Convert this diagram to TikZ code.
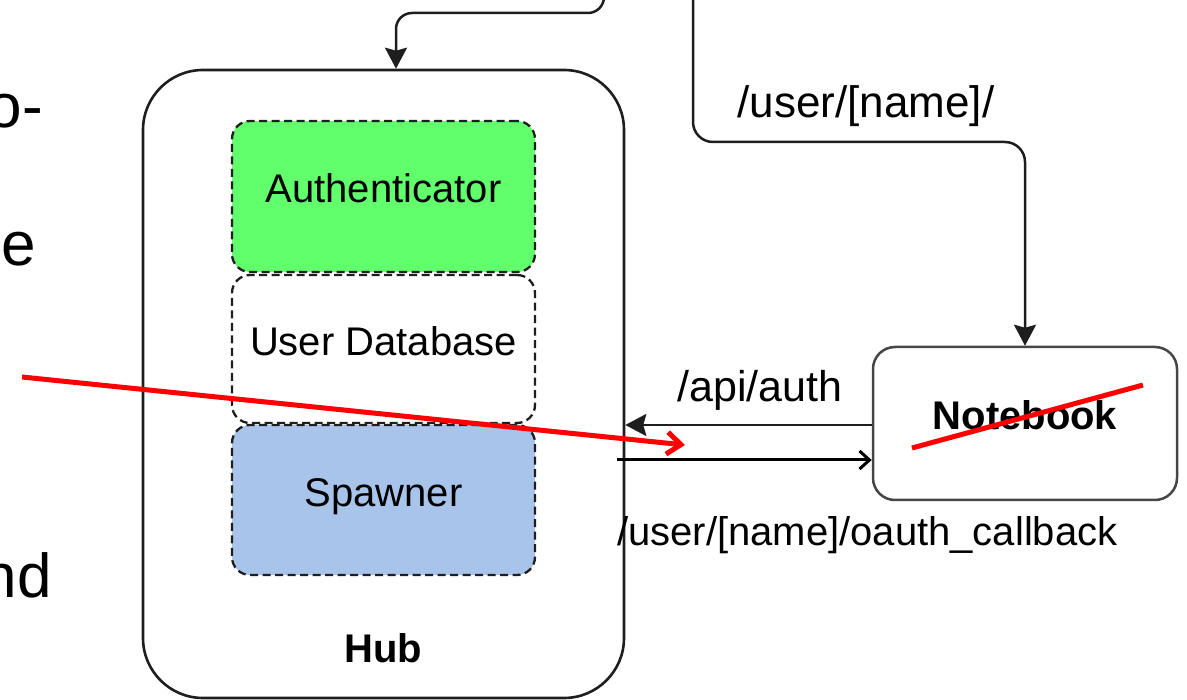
\documentclass[tikz,border=0pt]{standalone}
\usepackage{fontspec}
\setmainfont{Liberation Sans}
\usetikzlibrary{arrows.meta}
\definecolor{authgreen}{RGB}{98,255,108}
\definecolor{spawnblue}{RGB}{169,196,235}
\definecolor{linegray}{RGB}{30,30,30}
\definecolor{nbgray}{RGB}{70,70,70}
\begin{document}
\begin{tikzpicture}[x=1pt,y=-1pt,
  hubbox/.style={draw=linegray, line width=2.6pt, rounded corners=60pt,
    minimum width=481pt, minimum height=628pt, inner sep=0pt},
  part/.style={draw=linegray, line width=2.3pt, dash pattern=on 8pt off 4.5pt,
    rounded corners=18pt, minimum width=303pt, inner sep=0pt,
    font=\fontsize{40}{48}\selectfont, text height=29pt, text depth=16pt},
  nbbox/.style={draw=nbgray, line width=2.5pt, rounded corners=22pt,
    minimum width=304pt, minimum height=153pt, inner sep=0pt,
    font=\fontsize{40}{48}\selectfont\bfseries, text height=29pt, text depth=16pt},
  conn/.style={draw=linegray, line width=2.5pt},
  classic/.style={-{Stealth[length=21pt, width=22pt, inset=3pt]}},
  lbl/.style={font=\fontsize{#1}{#1}\selectfont, inner sep=0pt},
  slide/.style={font=\fontsize{62}{70}\selectfont, inner sep=0pt, anchor=base east},
  strike/.style={draw=red, line width=5pt}
]
\useasboundingbox (0,0) rectangle (1187,700);
\clip (0,0) rectangle (1187,700);

% slide text cut at the left edge
\node[slide] (s1) at (43,128) {o-};
\node[slide] (s2) at (36,266) {e};
\node[slide] (s3) at (52,597) {nd};

% hub and its components
\node[hubbox] (hub) at (383.5,384) {};
\node[part, fill=authgreen, minimum height=151pt] (auth) at (383.5,196.5) {Authenticator};
\node[part, fill=white, minimum height=148pt] (udb) at (383.5,349) {User Database};
\node[part, fill=spawnblue, minimum height=150pt] (spawn) at (383.5,500) {Spawner};
\node[font=\fontsize{40}{48}\selectfont\bfseries, inner sep=0pt] (hubtitle) at (383.5,648) {Hub};

% single-user notebook server
\node[nbbox] (nb) at (1025,423.5) {Notebook};

% incoming request to the hub
\coordinate (hubfeed) at (604,-8);
\coordinate (hubbend) at (396,13);
\draw[conn, classic, rounded corners=16pt] (hubfeed) |- (hubbend) -- ([xshift=12.5pt]hub.north);

% proxied request to the notebook
\coordinate (userfeed) at (693,-8);
\coordinate (userbend) at (860,142);
\draw[conn, classic, rounded corners=20pt] (userfeed) |- (userbend) -| (nb.north);
\node[lbl=44, anchor=base] (userlbl) at (866,118) {/user/[name]/};

% auth check from notebook to hub
\draw[conn, classic] (nb.west |- 0,425) -- (hub.east |- 0,425);
\node[lbl=43, anchor=base] (apilbl) at (760,402) {/api/auth};

% oauth callback from hub to notebook
\coordinate (cbstart) at (617,460);
\draw[draw=black, line width=3pt, -{Straight Barb[length=10pt, width=18pt]}] (cbstart) -- (nb.west |- cbstart);
\node[lbl=40, anchor=base west] (cblbl) at (617,546) {/user/[name]/oauth\_callback};

% red annotations
\coordinate (redstart) at (22,377);
\coordinate (redtip) at (685,445);
\draw[strike, -{Straight Barb[length=14pt, width=22pt]}] (redstart) -- (redtip);
\coordinate (nbx1) at (912,448);
\coordinate (nbx2) at (1143,385);
\draw[strike] (nbx1) -- (nbx2);
\end{tikzpicture}
\end{document}
